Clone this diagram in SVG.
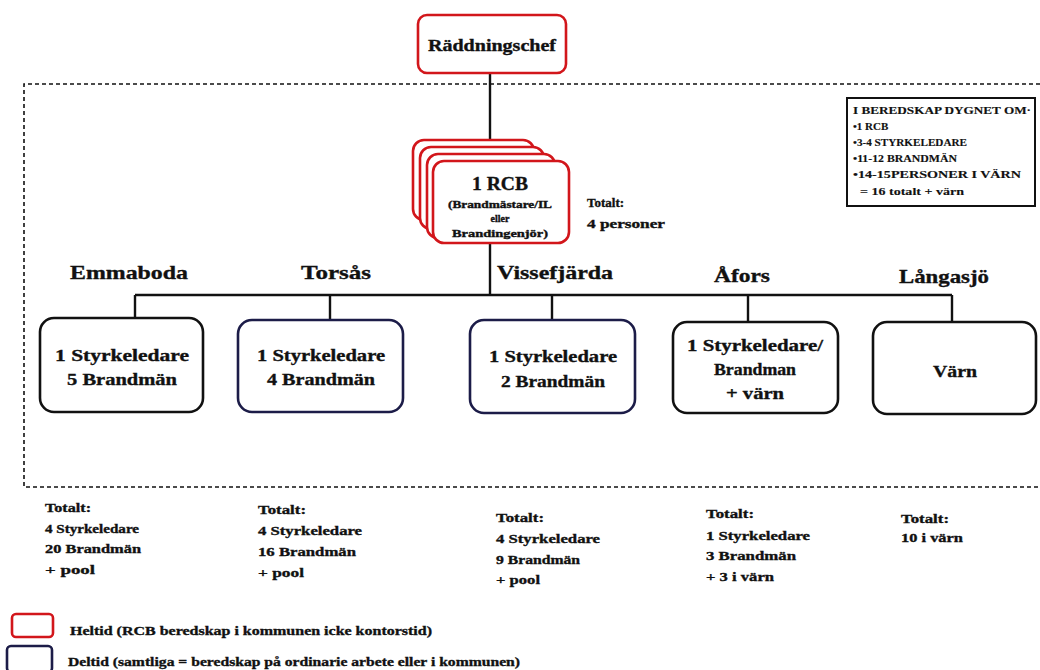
<svg xmlns="http://www.w3.org/2000/svg" width="1040" height="670" viewBox="0 0 1040 670">
<style>
text{font-family:"Liberation Serif","DejaVu Serif",serif;font-weight:bold;fill:#111;stroke:#111;stroke-width:0.35}
.red{fill:#fff;stroke:#d2161b;stroke-width:2.6}
.blk{fill:#fff;stroke:#111;stroke-width:2.6}
.nav{fill:#fff;stroke:#1c1c48;stroke-width:2.6}
.ln{stroke:#111;stroke-width:2.4;fill:none}
.dash{stroke:#111;stroke-width:1.6;fill:none;stroke-dasharray:4 3}
.h{font-size:19px;text-anchor:middle}
.b{font-size:17px;text-anchor:middle}
.t{font-size:13px}
.s{font-size:11px;stroke-width:0.15}
.c{text-anchor:middle}
</style>
<rect width="1040" height="670" fill="#fff"/>
<g id="frame">
<path class="dash" d="M1040 84 H24 V487 H1040"/>
</g>
<g id="connectors">
<path class="ln" d="M490 73 V295"/>
<path class="ln" d="M135 295 H952"/>
<path class="ln" d="M135 295 V318 M330 295 V320 M552 295 V320 M748 295 V322 M952 295 V322"/>
</g>
<g id="raddningschef">
<rect class="red" x="418" y="15" width="148" height="58" rx="9"/>
<text x="492" y="51" class="c" font-size="17" textLength="128" lengthAdjust="spacingAndGlyphs">Räddningschef</text>
</g>
<g id="rcb">
<rect class="red" x="413" y="140" width="121" height="80" rx="11"/>
<rect class="red" x="420" y="147" width="124" height="82" rx="11"/>
<rect class="red" x="427" y="154" width="128" height="84" rx="11"/>
<rect class="red" x="433" y="161" width="136" height="82" rx="11"/>
<text x="500" y="190" class="c" font-size="18" textLength="56" lengthAdjust="spacingAndGlyphs">1 RCB</text>
<text x="500" y="208" class="c" font-size="10" textLength="104" lengthAdjust="spacingAndGlyphs">(Brandmästare/IL</text>
<text x="500" y="222" class="c" font-size="10">eller</text>
<text x="500" y="237" class="c" font-size="10" textLength="96" lengthAdjust="spacingAndGlyphs">Brandingenjör)</text>
<text x="587" y="207" class="t" font-size="11">Totalt:</text>
<text x="587" y="228" class="t" font-size="11" textLength="78" lengthAdjust="spacingAndGlyphs">4  personer</text>
</g>
<g id="info">
<rect x="847" y="98" width="188" height="108" fill="#fff" stroke="#111" stroke-width="2"/>
<text x="853" y="114" class="s" textLength="178" lengthAdjust="spacingAndGlyphs">I BEREDSKAP DYGNET OM·</text>
<text x="853" y="130" class="s">•1 RCB</text>
<text x="853" y="146" class="s" textLength="114" lengthAdjust="spacingAndGlyphs">•3-4  STYRKELEDARE</text>
<text x="853" y="162" class="s" textLength="104" lengthAdjust="spacingAndGlyphs">•11-12 BRANDMÄN</text>
<text x="853" y="178" class="s" textLength="168" lengthAdjust="spacingAndGlyphs">•14-15PERSONER I VÄRN</text>
<text x="860" y="195" class="s" font-size="9" textLength="104" lengthAdjust="spacingAndGlyphs">= 16 totalt + värn</text>
</g>
<g id="emmaboda">
<text x="129" y="279" class="h" textLength="118" lengthAdjust="spacingAndGlyphs">Emmaboda</text>
<rect class="blk" x="40" y="318" width="163" height="94" rx="14"/>
<text x="122" y="361" class="b" textLength="134" lengthAdjust="spacingAndGlyphs">1 Styrkeledare</text>
<text x="122" y="385" class="b" textLength="110" lengthAdjust="spacingAndGlyphs">5 Brandmän</text>
</g>
<g id="torsas">
<text x="336" y="279" class="h" textLength="70" lengthAdjust="spacingAndGlyphs">Torsås</text>
<rect class="nav" x="238" y="320" width="165" height="92" rx="14"/>
<text x="321" y="361" class="b" textLength="128" lengthAdjust="spacingAndGlyphs">1 Styrkeledare</text>
<text x="321" y="385" class="b" textLength="108" lengthAdjust="spacingAndGlyphs">4 Brandmän</text>
</g>
<g id="vissefjarda">
<text x="555" y="279" class="h" textLength="116" lengthAdjust="spacingAndGlyphs">Vissefjärda</text>
<rect class="nav" x="470" y="320" width="165" height="93" rx="14"/>
<text x="553" y="362" class="b" textLength="128" lengthAdjust="spacingAndGlyphs">1 Styrkeledare</text>
<text x="553" y="387" class="b" textLength="104" lengthAdjust="spacingAndGlyphs">2 Brandmän</text>
</g>
<g id="afors">
<text x="742" y="282" class="h" textLength="56" lengthAdjust="spacingAndGlyphs">Åfors</text>
<rect class="blk" x="673" y="322" width="165" height="91" rx="14"/>
<text x="755" y="351" class="b" textLength="136" lengthAdjust="spacingAndGlyphs">1 Styrkeledare/</text>
<text x="755" y="375" class="b" textLength="82" lengthAdjust="spacingAndGlyphs">Brandman</text>
<text x="755" y="399" class="b" textLength="58" lengthAdjust="spacingAndGlyphs">+ värn</text>
</g>
<g id="langasjo">
<text x="944" y="283" class="h" textLength="90" lengthAdjust="spacingAndGlyphs">Långasjö</text>
<rect class="blk" x="873" y="322" width="163" height="92" rx="14"/>
<text x="955" y="377" class="b" textLength="44" lengthAdjust="spacingAndGlyphs">Värn</text>
</g>
<g id="totals">
<text x="45" y="512" class="t" textLength="46" lengthAdjust="spacingAndGlyphs">Totalt:</text>
<text x="45" y="533" class="t" textLength="94" lengthAdjust="spacingAndGlyphs">4 Styrkeledare</text>
<text x="45" y="553" class="t" textLength="96" lengthAdjust="spacingAndGlyphs">20 Brandmän</text>
<text x="45" y="574" class="t" textLength="50" lengthAdjust="spacingAndGlyphs"> + pool</text>
<text x="258" y="514" class="t" textLength="48" lengthAdjust="spacingAndGlyphs">Totalt:</text>
<text x="258" y="535" class="t" textLength="104" lengthAdjust="spacingAndGlyphs">4 Styrkeledare</text>
<text x="258" y="556" class="t" textLength="98" lengthAdjust="spacingAndGlyphs">16 Brandmän</text>
<text x="258" y="577" class="t" textLength="46" lengthAdjust="spacingAndGlyphs">+ pool</text>
<text x="496" y="522" class="t" textLength="48" lengthAdjust="spacingAndGlyphs">Totalt:</text>
<text x="496" y="543" class="t" textLength="104" lengthAdjust="spacingAndGlyphs">4 Styrkeledare</text>
<text x="496" y="564" class="t" textLength="84" lengthAdjust="spacingAndGlyphs">9 Brandmän</text>
<text x="496" y="584" class="t" textLength="44" lengthAdjust="spacingAndGlyphs">+ pool</text>
<text x="706" y="518" class="t" textLength="48" lengthAdjust="spacingAndGlyphs">Totalt:</text>
<text x="706" y="540" class="t" textLength="104" lengthAdjust="spacingAndGlyphs">1 Styrkeledare</text>
<text x="706" y="560" class="t" textLength="90" lengthAdjust="spacingAndGlyphs">3 Brandmän</text>
<text x="706" y="581" class="t" textLength="68" lengthAdjust="spacingAndGlyphs">+ 3 i värn</text>
<text x="901" y="523" class="t" textLength="48" lengthAdjust="spacingAndGlyphs">Totalt:</text>
<text x="901" y="542" class="t" textLength="62" lengthAdjust="spacingAndGlyphs">10 i värn</text>
</g>
<g id="legend">
<rect class="red" x="12" y="614" width="41" height="23" rx="4"/>
<text x="70" y="635" class="t" font-size="12" textLength="362" lengthAdjust="spacingAndGlyphs">Heltid (RCB beredskap i kommunen icke kontorstid)</text>
<rect x="7" y="646" width="45" height="26" rx="4" fill="#fff" stroke="#1c1c48" stroke-width="2.6"/>
<text x="68" y="666" class="t" font-size="12" textLength="452" lengthAdjust="spacingAndGlyphs">Deltid (samtliga = beredskap på ordinarie arbete eller i kommunen)</text>
</g>
</svg>
